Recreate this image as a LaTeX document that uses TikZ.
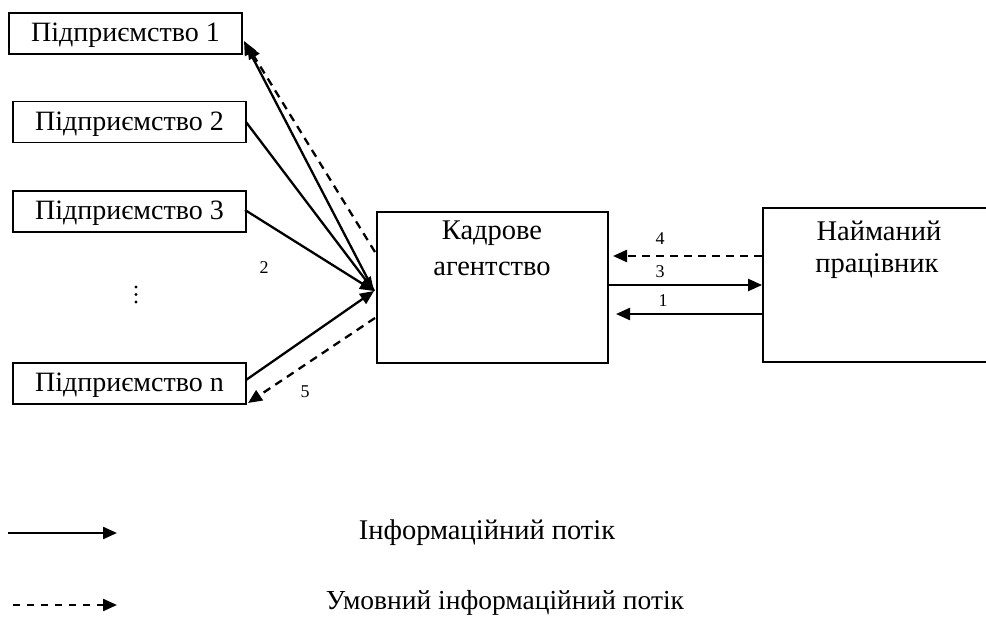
\documentclass[tikz,border=0pt]{standalone}
\usepackage{fontspec}
\setmainfont{Liberation Serif}
\usetikzlibrary{arrows.meta}
\begin{document}
\begin{tikzpicture}[x=1pt,y=-1pt,
  box/.style={draw,line width=1.8pt,minimum width=233pt,minimum height=41pt,inner sep=0pt,text depth=2.5pt,font=\fontsize{28}{32}\selectfont},
  bigbox/.style={draw,line width=1.8pt,inner sep=0pt},
  txt/.style={font=\fontsize{28.5}{32}\selectfont,inner sep=0pt},
  lbl/.style={font=\fontsize{18}{20}\selectfont,inner sep=0pt},
  solidarr/.style={line width=2.3pt,-{Triangle[length=14pt,width=12pt]}},
  dasharr/.style={line width=2.3pt,dash pattern=on 8pt off 6pt,-{Triangle[length=14pt,width=12pt]}}]
\useasboundingbox (0,0) rectangle (986,626);
% boxes
\node[box] (b1) at (125.5,33.5) {Підприємство 1};
\node[box] (b2) at (129.5,122) {Підприємство 2};
\node[box] (b3) at (129.5,211.5) {Підприємство 3};
\node[box] (bn) at (129.5,383.5) {Підприємство n};
\node[bigbox,minimum width=231pt,minimum height=151pt] (kad) at (492.5,287.5) {};
\node[txt] (kadt1) at (492,233) {Кадрове};
\node[txt] (kadt2) at (492,269) {агентство};
\node[bigbox,minimum width=240pt,minimum height=154pt] (naim) at (883,285) {};
\node[txt] (naimt1) at (879,231) {Найманий};
\node[txt] (naimt2) at (877,266) {працівник};
% dots
\fill (136,287) circle (1.6) (136,294.5) circle (1.6) (136,302) circle (1.6);
% convergence point
\coordinate (conv) at (374,291);
\coordinate (b1tip) at (244,41);
\coordinate (b1d) at (247,45);
\coordinate (kd1) at (375,252);
\coordinate (b2s) at (246,122);
\coordinate (b3s) at (245,210);
\coordinate (bns) at (246,380);
\coordinate (kd5) at (375,318);
\coordinate (bntip) at (248,403);
% left arrows
\draw[solidarr] (conv) -- (b1tip);
\draw[dasharr] (kd1) -- (b1d);
\draw[solidarr] (b2s) -- (conv);
\draw[solidarr] (b3s) -- (conv);
\draw[solidarr] (bns) -- (conv);
\draw[dasharr] (kd5) -- (bntip);
\node[lbl] (l2) at (264,268) {2};
\node[lbl] (l5) at (305,392) {5};
% right arrows
\draw[dasharr] (naim.west |- 0,256) -- (613,256);
\draw[solidarr] (kad.east |- 0,285) -- (naim.west |- 0,285);
\draw[solidarr] (naim.west |- 0,314) -- (616,314);
\node[lbl] (l4) at (660,239) {4};
\node[lbl] (l3) at (660,272) {3};
\node[lbl] (l1) at (663,301) {1};
% legend
\coordinate (ls1) at (8,533);
\coordinate (le1) at (117,533);
\coordinate (ls2) at (13,605);
\coordinate (le2) at (117,605);
\draw[solidarr] (ls1) -- (le1);
\draw[dasharr,dash pattern=on 7pt off 7pt] (ls2) -- (le2);
\node[txt] (t1) at (487,533) {Інформаційний потік};
\node[txt,font=\fontsize{27.5}{32}\selectfont] (t2) at (505,603) {Умовний інформаційний потік};
\end{tikzpicture}
\end{document}
